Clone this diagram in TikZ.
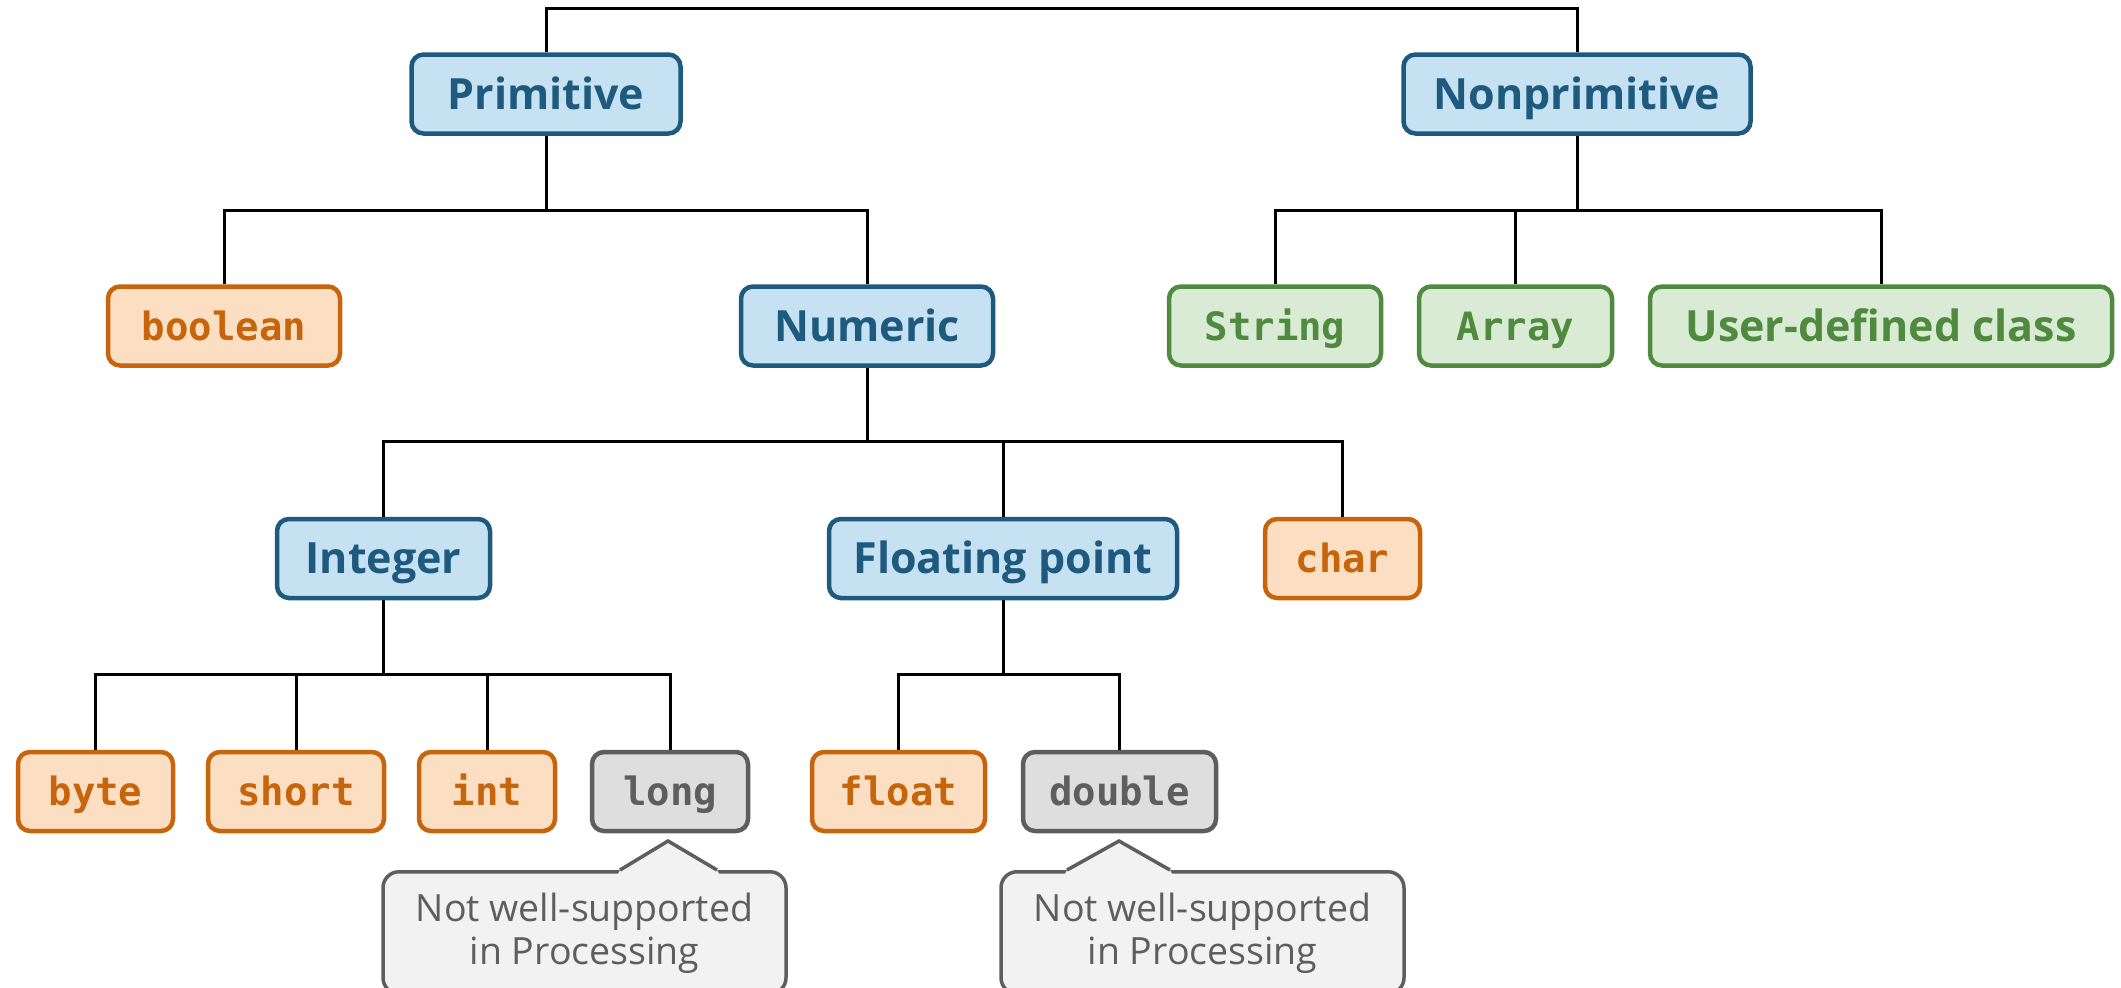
\documentclass[tikz,border=0pt]{standalone}
\usepackage{fontspec}
\setmainfont{Open Sans}
\newfontfamily\codefont{DejaVu Sans Mono}
\definecolor{bluefill}{HTML}{C5E1F2}
\definecolor{blueline}{HTML}{1E5A7D}
\definecolor{orfill}{HTML}{FCDFC3}
\definecolor{orline}{HTML}{C7650C}
\definecolor{grfill}{HTML}{D9EBD5}
\definecolor{grline}{HTML}{4F8A3F}
\definecolor{gyfill}{HTML}{DEDEDE}
\definecolor{gyline}{HTML}{5E5E5E}
\definecolor{cofill}{HTML}{F2F2F2}
\begin{document}
\begin{tikzpicture}[x=1pt,y=-1pt,
  box/.style={rounded corners=12pt, line width=4.5pt, minimum height=79pt, inner sep=0pt, anchor=center, text depth=0pt},
  sansbox/.style={box, text height=30.7pt, font=\fontsize{43}{50}\selectfont\bfseries},
  codebox/.style={box, text height=28.4pt, font=\fontsize{39}{46}\selectfont\codefont\bfseries},
  cat/.style={sansbox, draw=blueline, fill=bluefill, text=blueline},
  ptype/.style={codebox, draw=orline, fill=orfill, text=orline},
  gtype/.style={codebox, draw=gyline, fill=gyfill, text=gyline},
  ntype/.style={codebox, draw=grline, fill=grfill, text=grline},
  ntypesans/.style={sansbox, draw=grline, fill=grfill, text=grline},
  callout/.style={rounded corners=16pt, line width=3.5pt, draw=gyline, fill=cofill, text=gyline, minimum width=403pt, minimum height=122pt, inner sep=0pt, align=center, font=\fontsize{37.5}{43}\selectfont},
  conn/.style={line width=3pt, black}]
\useasboundingbox (0,0) rectangle (2121,988);
\clip (0,0) rectangle (2121,988);

% nodes
\node[cat, minimum width=269pt] (prim) at (546,94) {Primitive};
\node[cat, minimum width=347pt] (nonprim) at (1577,94) {Nonprimitive};
\node[ptype, minimum width=232pt] (bool) at (224,326) {boolean};
\node[cat, minimum width=252pt] (num) at (867,326) {Numeric};
\node[ntype, minimum width=212pt] (str) at (1275,326) {String};
\node[ntype, minimum width=193pt] (arr) at (1515.5,326) {Array};
\node[ntypesans, minimum width=462pt] (udc) at (1881,326) {User-defined class};
\node[cat, minimum width=213pt] (integer) at (383.5,558.5) {Integer};
\node[cat, minimum width=348pt] (flt) at (1003,558.5) {Floating point};
\node[ptype, minimum width=155pt] (char) at (1342.5,558.5) {char};
\node[ptype, minimum width=155pt] (byte) at (95.5,791.5) {byte};
\node[ptype, minimum width=176pt] (short) at (296,791.5) {short};
\node[ptype, minimum width=136pt] (int) at (487,791.5) {int};
\node[gtype, minimum width=156pt] (long) at (670,791.5) {long};
\node[ptype, minimum width=173pt] (float) at (898.5,791.5) {float};
\node[gtype, minimum width=193pt] (double) at (1119.5,791.5) {double};

% connectors
\coordinate (top) at (1000,8);
\draw[conn] (prim.north) |- (top) -| (nonprim.north);
\coordinate (j1) at (546,210);
\draw[conn] (prim.south) -- (j1);
\draw[conn] (bool.north) |- (j1) -| (num.north);
\coordinate (j2) at (1577,210);
\draw[conn] (nonprim.south) -- (j2);
\draw[conn] (str.north) |- (j2) -| (udc.north);
\draw[conn] (arr.north) |- (j2);
\coordinate (j3) at (867,441);
\draw[conn] (num.south) -- (j3);
\draw[conn] (integer.north) |- (j3) -| (char.north);
\draw[conn] (flt.north) |- (j3);
\coordinate (j4) at (383.5,674);
\draw[conn] (integer.south) -- (j4);
\draw[conn] (byte.north) |- (j4) -| (long.north);
\draw[conn] (short.north) |- (j4);
\draw[conn] (int.north) |- (j4);
\coordinate (j5) at (1003,674);
\draw[conn] (flt.south) -- (j5);
\draw[conn] (float.north) |- (j5) -| (double.north);

% callouts
\node[callout, anchor=north] (c1) at (584.5,870) {Not well-supported\\in Processing};
\coordinate (p1) at (668,841);
\fill[cofill] (618,874) -- (620,870) -- (p1) -- (717,870) -- (719,874) -- cycle;
\draw[line width=3.5pt, gyline, line join=miter] (620,870) -- (p1) -- (717,870);
\node[callout, anchor=north] (c2) at (1202.5,870) {Not well-supported\\in Processing};
\coordinate (p2) at (1119,841);
\fill[cofill] (1065,874) -- (1067,870) -- (p2) -- (1170,870) -- (1172,874) -- cycle;
\draw[line width=3.5pt, gyline, line join=miter] (1067,870) -- (p2) -- (1170,870);
\end{tikzpicture}
\end{document}
